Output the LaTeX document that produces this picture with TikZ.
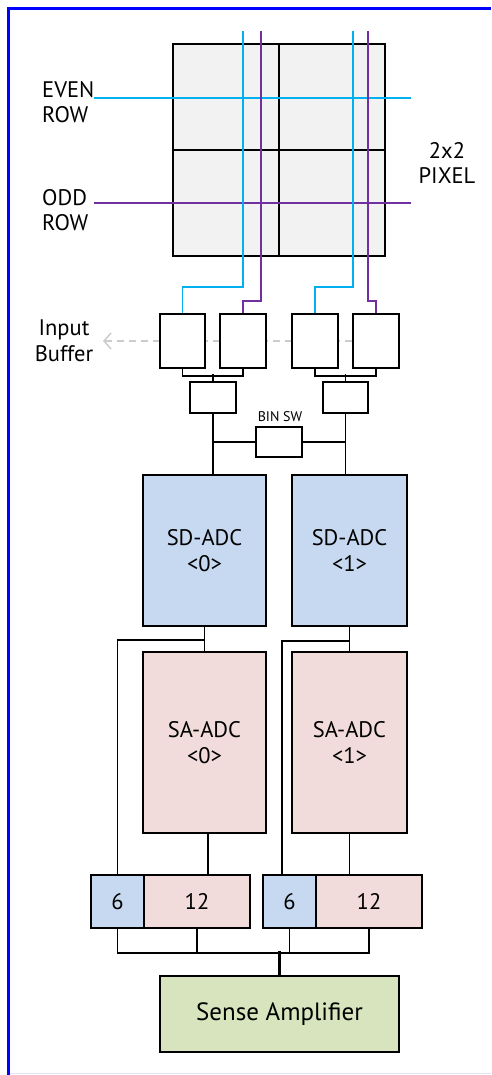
\documentclass[tikz,border=0pt]{standalone}
\usepackage{fontspec}
\setmainfont{PT Sans}
\usetikzlibrary{arrows.meta,backgrounds}
\definecolor{cy}{HTML}{00B0F0}
\definecolor{pu}{HTML}{7030A0}
\definecolor{bord}{HTML}{0000FF}
\definecolor{pixfill}{HTML}{F2F2F2}
\definecolor{sdfill}{HTML}{C6D9F1}
\definecolor{safill}{HTML}{F2DCDB}
\definecolor{amfill}{HTML}{D7E4BD}
\definecolor{dashgray}{HTML}{CCCCCC}
\begin{document}
\begin{tikzpicture}[x=1pt,y=-1pt,
  box/.style={draw=black, line width=1.7pt, fill=white, inner sep=0pt,
    font=\fontsize{22.5}{25.5}\selectfont, align=center},
  sz/.style 2 args={minimum width=#1pt, minimum height=#2pt},
  pix/.style={box, fill=pixfill},
  sdbox/.style={box, fill=sdfill},
  sabox/.style={box, fill=safill},
  ambox/.style={box, fill=amfill},
  lbl/.style={inner sep=0pt, font=\fontsize{22.5}{25.5}\selectfont},
  cyline/.style={cy, line width=1.5pt},
  puline/.style={pu, line width=1.5pt},
  wire/.style={black, line width=1.6pt}
]
\useasboundingbox (0,0) rectangle (491,1075);
\begin{pgfonlayer}{background}
\fill[white] (0,0) rectangle (491,1075);
\end{pgfonlayer}
\draw[bord, line width=3pt] (8.5,1075) -- (8.5,8.5) -- (491,8.5);
\draw[bord!10, line width=1.5pt] (10,1073.5) -- (491,1073.5);

% pixel array
\node[pix, sz={106}{106}] (p11) at (226,97) {};
\node[pix, sz={106}{106}] (p12) at (332,97) {};
\node[pix, sz={106}{106}] (p21) at (226,203) {};
\node[pix, sz={106}{106}] (p22) at (332,203) {};

\coordinate (evenL) at (94,98);  \coordinate (evenR) at (411,98);
\coordinate (oddL) at (94,203);  \coordinate (oddR) at (411,203);
\draw[cyline] (evenL) -- (evenR);
\draw[puline] (oddL) -- (oddR);

\node[lbl, align=left, anchor=west] (even) at (42,102) {EVEN\\ROW};
\node[lbl, align=left, anchor=west] (odd) at (42,210) {ODD\\ROW};
\node[lbl, align=center] (pixlbl) at (447,163) {2x2\\PIXEL};

\coordinate (c1) at (243,31);
\coordinate (c2) at (261,31);
\coordinate (c3) at (353,31);
\coordinate (c4) at (368,31);

% input buffers
\node[box, sz={45}{54}] (b1) at (182.5,341) {};
\node[box, sz={46}{54}] (b2) at (243,341) {};
\node[box, sz={46}{54}] (b3) at (315,341) {};
\node[box, sz={46}{54}] (b4) at (376,341) {};
\node[lbl, align=center] (iblbl) at (64,341) {Input\\Buffer};
\coordinate (ibtip) at (103,341);
\begin{pgfonlayer}{background}
\draw[dashgray, line width=1.5pt, dash pattern=on 7pt off 5pt,
  -{Straight Barb[length=7pt,width=16pt]}] (b4.west) -- (ibtip);
\end{pgfonlayer}

\draw[cyline] (c1) -- ++(0,256) -| (b1.north);
\draw[puline] (c2) -- ++(0,270) -| (b2.north);
\draw[cyline] (c3) -- ++(0,256) -| (b3.north);
\draw[puline] (c4) -- ++(0,270) -| (b4.north);

% small boxes
\node[box, sz={46}{31}] (sb1) at (213,397.5) {};
\node[box, sz={45}{31}] (sb2) at (345.5,397.5) {};
\draw[wire] (b1.south) -- ++(0,7) -| (b2.south);
\draw[wire] (sb1.north) -- ++(0,-7);
\draw[wire] (b3.south) -- ++(0,7) -| (b4.south);
\draw[wire] (sb2.north) -- ++(0,-7);

% BIN SW
\node[box, sz={46}{30}] (bin) at (279,442) {};
\node[inner sep=0pt, font=\fontsize{14}{16}\selectfont] (binlbl) at (280,417) {BIN SW};

% ADCs
\node[sdbox, sz={123}{151}] (SD0) at (204.5,550.5) {SD-ADC\\<0>};
\node[sdbox, sz={115}{151}] (SD1) at (349.5,550.5) {SD-ADC\\<1>};
\node[sabox, sz={123}{181}] (SA0) at (204.5,742.5) {SA-ADC\\<0>};
\node[sabox, sz={115}{181}] (SA1) at (349.5,742.5) {SA-ADC\\<1>};

\draw[wire] (sb1.south) -- (sb1.south |- SD0.north);
\draw[wire] (sb2.south) -- (sb2.south |- SD1.north);
\draw[wire] (sb1.south |- bin.west) -- (bin.west);
\draw[wire] (bin.east) -- (sb2.south |- bin.east);

% output registers
\node[sdbox, sz={53}{53}] (six0) at (117.5,901.5) {6};
\node[sabox, sz={106}{53}] (tw0) at (197,901.5) {12};
\node[sdbox, sz={53}{53}] (six1) at (289.5,901.5) {6};
\node[sabox, sz={106}{53}] (tw1) at (369,901.5) {12};

\draw[wire] (SD0.south) -- (SA0.north);
\draw[wire] (SD0.south) ++(0,13) -| (six0.north);
\draw[wire] (SD1.south) -- (SA1.north);
\draw[wire] (SD1.south) ++(0,14) -| ([xshift=-7.5pt]six1.north);
\draw[wire] ([xshift=3.5pt]SA0.south) -- ([xshift=3.5pt]SA0.south |- tw0.north);
\draw[wire] (SA1.south) -- (SA1.south |- tw1.north);

% sense amplifier
\node[ambox, sz={239}{76}, font=\fontsize{25}{28}\selectfont] (amp) at (279.5,1014) {Sense Amplifier};
\draw[wire] (six0.south) -- ++(0,24) -| (tw1.south);
\draw[wire] (tw0.south) -- ++(0,24);
\draw[wire] (six1.south) -- ++(0,24);
\draw[black, line width=2.2pt] (amp.north) -- ++(0,-24);
\end{tikzpicture}
\end{document}
